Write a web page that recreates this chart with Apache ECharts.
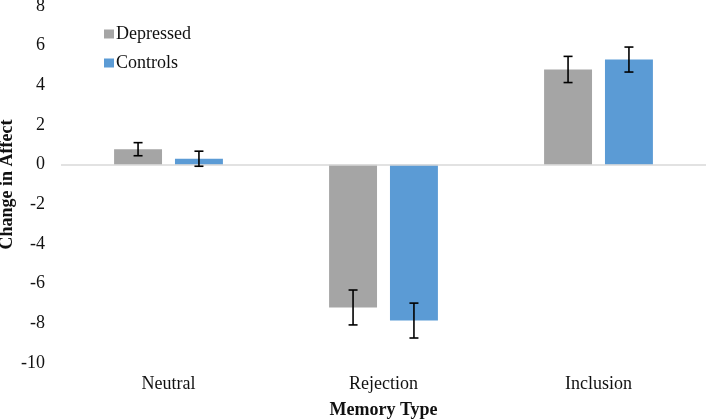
<!DOCTYPE html>
<html>
<head>
<meta charset="utf-8">
<script src="https://cdn.jsdelivr.net/npm/echarts@6/dist/echarts.min.js"></script>
<style>html,body{margin:0;padding:0;background:#fff}#c{width:706px;height:419px}</style>
</head>
<body>
<div id="c"></div>
<script>
var categories = ['Neutral', 'Rejection', 'Inclusion'];
var seriesNames = ['Depressed', 'Controls'];
var depressed = [0.78, -7.2, 4.8];
var controls = [0.3, -7.86, 5.3];
var depressedErr = [0.33, 0.88, 0.66];
var controlsErr = [0.38, 0.88, 0.63];
var yTicks = { min: -10, max: 8, interval: 2 };

var FONT = '"Liberation Serif", "Times New Roman", serif';
var TXT = '#111';
var BAR_FRAC = 0.223;
var GAP_FRAC = 0.27;

function errSeries(vals, errs, idx) {
  var data = vals.map(function (v, i) { return [i, v, errs[i]]; });
  return {
    type: 'custom',
    silent: true,
    z: 10,
    renderItem: function (params, api) {
      var ci = api.value(0), v = api.value(1), e = api.value(2);
      var band = api.size([1, 0])[0];
      var bw = band * BAR_FRAC;
      var off = (bw + bw * GAP_FRAC) / 2 * (idx === 0 ? -1 : 1);
      var top = api.coord([ci, v + e]);
      var bot = api.coord([ci, v - e]);
      var x = top[0] + off;
      var cap = 4.5;
      var st = { stroke: '#000', lineWidth: 1.6 };
      return {
        type: 'group',
        children: [
          { type: 'line', shape: { x1: x, y1: top[1], x2: x, y2: bot[1] }, style: st },
          { type: 'line', shape: { x1: x - cap, y1: top[1], x2: x + cap, y2: top[1] }, style: st },
          { type: 'line', shape: { x1: x - cap, y1: bot[1], x2: x + cap, y2: bot[1] }, style: st }
        ]
      };
    },
    data: data
  };
}

var chart = echarts.init(document.getElementById('c'));
chart.setOption({
  animation: false,
  textStyle: { fontFamily: FONT },
  grid: { left: 61, right: 0, top: 6, bottom: 56, containLabel: false, outerBoundsMode: 'none' },
  legend: {
    orient: 'vertical',
    left: 99,
    top: 20,
    itemWidth: 10,
    itemHeight: 9,
    itemGap: 11,
    icon: 'rect',
    data: seriesNames,
    textStyle: { fontFamily: FONT, fontSize: 18, color: TXT, padding: [0, 0, 0, -3] }
  },
  xAxis: {
    type: 'category',
    data: categories,
    name: 'Memory Type',
    nameLocation: 'middle',
    nameGap: 38,
    nameMoveOverlap: false,
    nameTextStyle: { fontFamily: FONT, fontSize: 18, fontWeight: 'bold', color: TXT },
    axisLine: { show: false, onZero: false },
    axisTick: { show: false },
    axisLabel: { fontFamily: FONT, fontSize: 18, color: TXT, margin: 12 },
    splitLine: { show: false }
  },
  yAxis: {
    type: 'value',
    min: yTicks.min,
    max: yTicks.max,
    interval: yTicks.interval,
    name: 'Change in Affect',
    nameLocation: 'middle',
    nameGap: 45,
    nameMoveOverlap: false,
    nameTextStyle: { fontFamily: FONT, fontSize: 18, fontWeight: 'bold', color: TXT },
    axisLine: { show: false },
    axisTick: { show: false },
    axisLabel: { fontFamily: FONT, fontSize: 18, color: TXT, margin: 16 },
    splitLine: { show: false }
  },
  series: [
    {
      name: seriesNames[0],
      type: 'bar',
      data: depressed,
      barWidth: (BAR_FRAC * 100) + '%',
      barGap: (GAP_FRAC * 100) + '%',
      itemStyle: { color: '#A5A5A5' },
      markLine: {
        silent: true,
        symbol: 'none',
        label: { show: false },
        lineStyle: { color: '#D9D9D9', type: 'solid', width: 1.5 },
        data: [{ yAxis: 0 }]
      }
    },
    {
      name: seriesNames[1],
      type: 'bar',
      data: controls,
      barWidth: (BAR_FRAC * 100) + '%',
      barGap: (GAP_FRAC * 100) + '%',
      itemStyle: { color: '#5B9BD5' }
    },
    errSeries(depressed, depressedErr, 0),
    errSeries(controls, controlsErr, 1)
  ]
});
</script>
</body>
</html>
